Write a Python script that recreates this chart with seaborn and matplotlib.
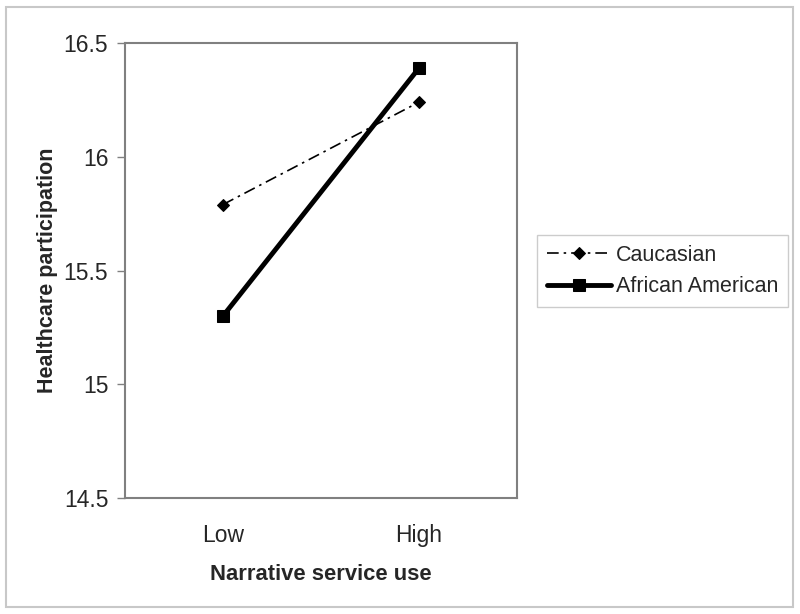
import pandas as pd
import matplotlib.pyplot as plt
import seaborn as sns
from matplotlib.patches import Rectangle

# Data
service_use = ["Low", "High"]
caucasian = [15.79, 16.24]
african_american = [15.30, 16.39]

df = pd.DataFrame({
    "Narrative service use": service_use * 2,
    "Healthcare participation": caucasian + african_american,
    "Group": ["Caucasian"] * 2 + ["African American"] * 2,
})

sns.set_style("white")
plt.rcParams['font.family'] = ['Liberation Sans', 'DejaVu Sans']

fig = plt.figure(figsize=(8, 6.14), dpi=100)
ax = fig.add_axes([125 / 800, 1 - 498 / 614, 392 / 800, 455 / 614])

sub = df[df["Group"] == "Caucasian"]
sns.lineplot(data=sub, x="Narrative service use", y="Healthcare participation",
             ax=ax, color="black", lw=1.2, linestyle=(0, (7, 3, 1.5, 3)),
             marker="D", markersize=6.5, markeredgecolor="black",
             label="Caucasian")
sub = df[df["Group"] == "African American"]
sns.lineplot(data=sub, x="Narrative service use", y="Healthcare participation",
             ax=ax, color="black", lw=3.5, linestyle="-",
             marker="s", markersize=8, markeredgecolor="black",
             label="African American")

# axes styling
ax.set_xlim(-0.5, 1.5)
ax.set_ylim(14.5, 16.5)
ax.set_yticks([14.5, 15, 15.5, 16, 16.5])
ax.set_yticklabels(["14.5", "15", "15.5", "16", "16.5"])
ax.set_xticks([0, 1])
ax.set_xticklabels(service_use)
ax.set_xticks([-0.5, 0.5, 1.5], minor=True)
ax.tick_params(axis="x", which="major", length=0, labelsize=16.5, pad=19)
ax.tick_params(axis="x", which="minor", length=5, width=1, color="#b0b0b0",
               direction="out")
ax.tick_params(axis="y", length=6, width=1, color="#808080", labelsize=16.5,
               direction="out", pad=6, left=True)
for s in ax.spines.values():
    s.set_color("#808080")
    s.set_linewidth(1.5)
    s.set_visible(True)

ax.set_xlabel("Narrative service use", fontsize=15.8, fontweight="bold", labelpad=12)
ax.set_ylabel("Healthcare participation", fontsize=15.5, fontweight="bold", labelpad=4)

ax.get_legend().remove()
h, l = ax.get_legend_handles_labels()
leg = fig.legend(h, l, loc="upper left", bbox_to_anchor=(537 / 800, 1 - 235 / 614),
                 fontsize=15.5, frameon=True, fancybox=False, handlelength=3.0,
                 handletextpad=0.2, borderpad=0.45, labelspacing=0.5,
                 borderaxespad=0, edgecolor="#c0c0c0")
leg.get_frame().set_linewidth(1)

# outer border
fig.patches.append(Rectangle((6 / 800, 1 - 607 / 614), 787 / 800, 600 / 614,
                             transform=fig.transFigure, fill=False,
                             edgecolor="#c8c8c8", lw=1.5))

plt.savefig("out.png", dpi=100)
